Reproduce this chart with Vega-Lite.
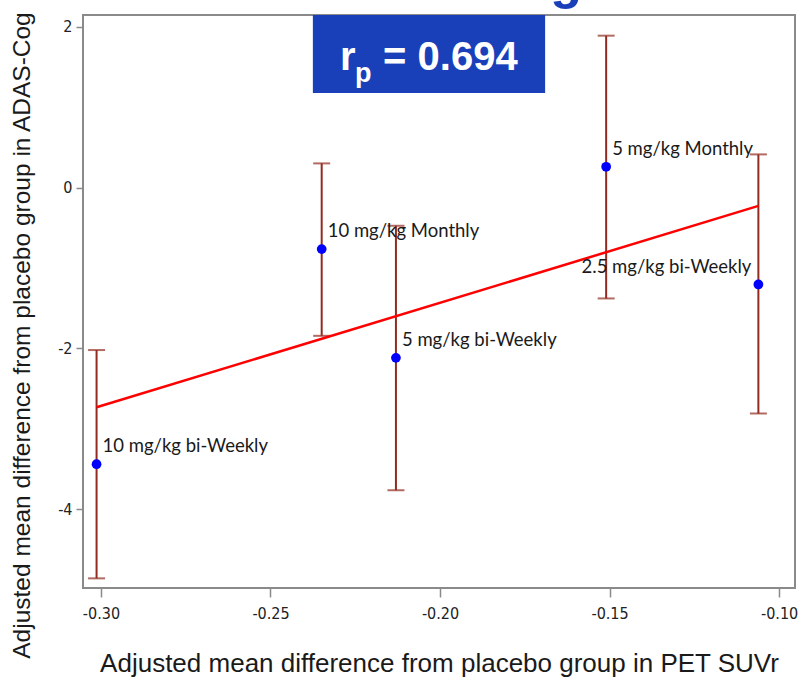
{
  "$schema": "https://vega.github.io/schema/vega-lite/v6.json",
  "autosize": {"type": "none"},
  "padding": {"left": 83, "top": 15, "right": 7, "bottom": 92},
  "width": 712,
  "height": 573,
  "background": "white",
  "config": {
    "view": {"stroke": "#8a8a8a", "strokeWidth": 2},
    "axis": {"grid": false, "domain": false}
  },
  "datasets": {
    "pts": [
      {"label": "10 mg/kg bi-Weekly", "x": -0.3013, "y": -3.44, "lo": -4.86, "hi": -2.02, "side": "right"},
      {"label": "10 mg/kg Monthly", "x": -0.2349, "y": -0.764, "lo": -1.843, "hi": 0.302, "side": "right"},
      {"label": "5 mg/kg bi-Weekly", "x": -0.2130, "y": -2.117, "lo": -3.764, "hi": -0.474, "side": "right"},
      {"label": "5 mg/kg Monthly", "x": -0.151, "y": 0.26, "lo": -1.378, "hi": 1.891, "side": "right"},
      {"label": "2.5 mg/kg bi-Weekly", "x": -0.1061, "y": -1.204, "lo": -2.809, "hi": 0.414, "side": "left"}
    ],
    "fit": [
      {"x": -0.3013, "y": -2.731},
      {"x": -0.1061, "y": -0.227}
    ]
  },
  "encoding": {
    "x": {
      "field": "x", "type": "quantitative",
      "scale": {"domain": [-0.3053, -0.0953], "nice": false, "zero": false},
      "axis": {
        "title": "Adjusted mean difference from placebo group in PET SUVr",
        "values": [-0.3, -0.25, -0.2, -0.15, -0.1],
        "labelExpr": "replace(format(datum.value, '.2f'), '−', '-')",
        "labelFont": "Liberation Sans Narrow, DejaVu Sans Condensed, sans-serif",
        "labelFontSize": 16, "labelColor": "#222222",
        "tickColor": "#8a8a8a", "tickSize": 9, "tickWidth": 1.5, "labelPadding": 8,
        "titleFont": "Liberation Sans", "titleFontSize": 26, "titleFontWeight": "normal",
        "titleColor": "#1a1a1a", "titlePadding": 29
      }
    },
    "y": {
      "field": "y", "type": "quantitative",
      "scale": {"domain": [-4.98, 2.148], "nice": false, "zero": false},
      "axis": {
        "title": "Adjusted mean difference from placebo group in ADAS-Cog",
        "values": [2, 0, -2, -4],
        "labelExpr": "replace(format(datum.value, 'd'), '−', '-')",
        "labelFont": "Liberation Sans Narrow, DejaVu Sans Condensed, sans-serif",
        "labelFontSize": 16, "labelColor": "#222222",
        "tickColor": "#8a8a8a", "tickSize": 7, "tickWidth": 1.5, "labelPadding": 4,
        "titleFont": "Liberation Sans", "titleFontSize": 24.5, "titleFontWeight": "normal",
        "titleColor": "#1a1a1a", "titleX": -61, "titleY": 320, "titleBaseline": "middle", "titleAnchor": "middle"
      }
    }
  },
  "layer": [
    {
      "data": {"values": [{"x1": -0.2375, "x2": -0.169, "y1": 2.148, "y2": 1.178}]},
      "mark": {"type": "rect", "color": "#1a40b9"},
      "encoding": {
        "x": {"field": "x1", "type": "quantitative"},
        "x2": {"field": "x2"},
        "y": {"field": "y1", "type": "quantitative"},
        "y2": {"field": "y2"}
      }
    },
    {
      "data": {"values": [{"t": "r", "x": -0.2295, "y": 1.464}]},
      "mark": {"type": "text", "font": "Liberation Sans", "fontWeight": "bold", "fontSize": 40, "color": "white", "align": "left", "baseline": "alphabetic"},
      "encoding": {
        "x": {"field": "x", "type": "quantitative"},
        "y": {"field": "y", "type": "quantitative"},
        "text": {"field": "t"}
      }
    },
    {
      "data": {"values": [{"t": "p", "x": -0.2251, "y": 1.315}]},
      "mark": {"type": "text", "font": "Liberation Sans", "fontWeight": "bold", "fontSize": 27, "color": "white", "align": "left", "baseline": "alphabetic"},
      "encoding": {
        "x": {"field": "x", "type": "quantitative"},
        "y": {"field": "y", "type": "quantitative"},
        "text": {"field": "t"}
      }
    },
    {
      "data": {"values": [{"t": "= 0.694", "x": -0.2168, "y": 1.464}]},
      "mark": {"type": "text", "font": "Liberation Sans", "fontWeight": "bold", "fontSize": 40, "color": "white", "align": "left", "baseline": "alphabetic"},
      "encoding": {
        "x": {"field": "x", "type": "quantitative"},
        "y": {"field": "y", "type": "quantitative"},
        "text": {"field": "t"}
      }
    },
    {
      "data": {"values": [{"t": "g", "x": -0.1628, "y": 2.36}]},
      "mark": {"type": "text", "font": "Liberation Sans", "fontWeight": "bold", "fontSize": 52, "color": "#1a40b9", "align": "center", "baseline": "alphabetic"},
      "encoding": {
        "x": {"field": "x", "type": "quantitative"},
        "y": {"field": "y", "type": "quantitative"},
        "text": {"field": "t"}
      }
    },
    {
      "data": {"name": "pts"},
      "mark": {"type": "rule", "color": "#922b20", "strokeWidth": 2},
      "encoding": {
        "y": {"field": "lo", "type": "quantitative"},
        "y2": {"field": "hi"}
      }
    },
    {
      "data": {"name": "pts"},
      "mark": {"type": "tick", "color": "#922b20", "orient": "horizontal", "size": 17, "thickness": 2},
      "encoding": {"y": {"field": "lo", "type": "quantitative"}}
    },
    {
      "data": {"name": "pts"},
      "mark": {"type": "tick", "color": "#922b20", "orient": "horizontal", "size": 17, "thickness": 2},
      "encoding": {"y": {"field": "hi", "type": "quantitative"}}
    },
    {
      "data": {"name": "fit"},
      "mark": {"type": "line", "color": "#ff0000", "strokeWidth": 2.5},
      "encoding": {}
    },
    {
      "data": {"name": "pts"},
      "mark": {"type": "point", "filled": true, "color": "#0000ff", "opacity": 1, "size": 95},
      "encoding": {}
    },
    {
      "data": {"name": "pts"},
      "transform": [{"filter": "datum.side === 'right'"}],
      "mark": {"type": "text", "font": "Lato, Open Sans, sans-serif", "fontSize": 18.5, "color": "#1a1a1a", "align": "left", "baseline": "middle", "dx": 6, "dy": -18},
      "encoding": {"text": {"field": "label"}}
    },
    {
      "data": {"name": "pts"},
      "transform": [{"filter": "datum.side === 'left'"}],
      "mark": {"type": "text", "font": "Lato, Open Sans, sans-serif", "fontSize": 18.5, "color": "#1a1a1a", "align": "right", "baseline": "middle", "dx": -7, "dy": -17},
      "encoding": {"text": {"field": "label"}}
    }
  ]
}
